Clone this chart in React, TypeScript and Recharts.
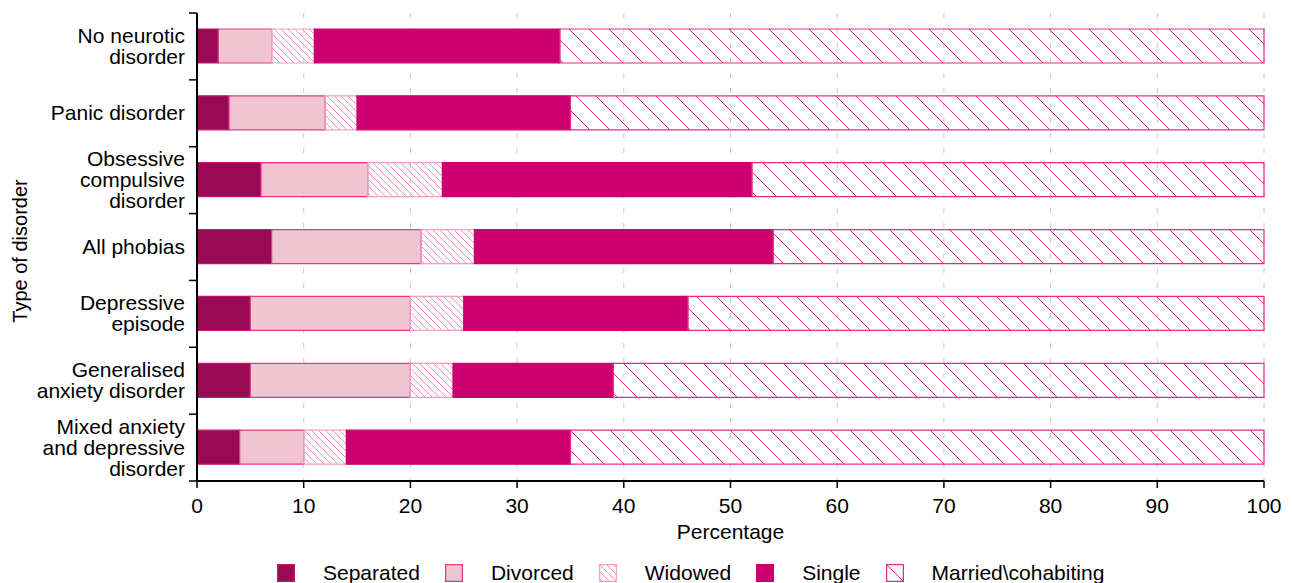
import React from 'react'
import {
  BarChart,
  Bar,
  XAxis,
  YAxis,
  CartesianGrid,
  Legend,
} from 'recharts'

const categories = [
  'No neurotic\ndisorder',
  'Panic disorder',
  'Obsessive\ncompulsive\ndisorder',
  'All phobias',
  'Depressive\nepisode',
  'Generalised\nanxiety disorder',
  'Mixed anxiety\nand depressive\ndisorder',
]
const separated = [2, 3, 6, 7, 5, 5, 4]
const divorced = [5, 9, 10, 14, 15, 15, 6]
const widowed = [4, 3, 7, 5, 5, 4, 4]
const single = [23, 20, 29, 28, 21, 15, 21]
const married = [66, 65, 48, 46, 54, 61, 65]
const xTicks = [0, 10, 20, 30, 40, 50, 60, 70, 80, 90, 100]

const data = categories.map((name, i) => ({
  name,
  separated: separated[i],
  divorced: divorced[i],
  widowed: widowed[i],
  single: single[i],
  married: married[i],
}))

const FONT = '"Liberation Sans", Arial, Helvetica, sans-serif'
const FS = 21
const PLOT_H = 468
const BAND = PLOT_H / categories.length

const series = [
  { key: 'separated', label: 'Separated', fill: '#990a55', stroke: '#c2156c' },
  { key: 'divorced', label: 'Divorced', fill: '#f0c5d1', stroke: '#e6368e' },
  { key: 'widowed', label: 'Widowed', fill: 'url(#hatchWidowed)', stroke: '#f79cc3' },
  { key: 'single', label: 'Single', fill: '#cc006e', stroke: '#cc006e' },
  { key: 'married', label: 'Married\\cohabiting', fill: 'url(#hatchMarried)', stroke: '#e8288a' },
]

function YTick(props: any) {
  const { x, y, payload, index, visibleTicksCount } = props
  const lines = String(payload.value).split('\n')
  const lh = 21
  const start = -((lines.length - 1) / 2) * lh
  return (
    <g>
      <line x1={x - 8} x2={x} y1={y - BAND / 2} y2={y - BAND / 2} stroke="#000" strokeWidth={1.5} />
      {index === visibleTicksCount - 1 && (
        <line x1={x - 8} x2={x} y1={y + BAND / 2} y2={y + BAND / 2} stroke="#000" strokeWidth={1.5} />
      )}
      <text x={x - 12} y={y} textAnchor="end" fill="#000" fontSize={FS} fontFamily={FONT}>
        {lines.map((l, i) => (
          <tspan key={i} x={x - 12} dy={i === 0 ? start + 7 : lh}>
            {l}
          </tspan>
        ))}
      </text>
    </g>
  )
}

function YLabel(props: any) {
  const vb = props.viewBox || {}
  const cx = 12
  const cy = vb.y + vb.height / 2 + 4
  return (
    <text
      x={cx}
      y={cy}
      transform={`rotate(-90, ${cx}, ${cy})`}
      textAnchor="middle"
      dominantBaseline="central"
      fontSize={20}
      fontFamily={FONT}
      fill="#000"
    >
      Type of disorder
    </text>
  )
}

function LegendContent() {
  return (
    <div
      style={{
        display: 'flex',
        alignItems: 'center',
        height: 30,
        paddingLeft: 269,
        paddingTop: 10,
        boxSizing: 'border-box',
        fontFamily: FONT,
        fontSize: FS,
        color: '#000',
      }}
    >
      {series.map((s) => (
        <div key={s.key} style={{ display: 'flex', alignItems: 'center', marginRight: 25 }}>
          <svg width={18} height={18} style={{ display: 'block' }}>
            <rect x={0.5} y={0.5} width={17} height={17} fill={s.fill} stroke={s.stroke} strokeWidth={1.5} />
          </svg>
          <span style={{ marginLeft: 28 }}>{s.label}</span>
        </div>
      ))}
    </div>
  )
}

export default function App() {
  return (
    <div style={{ fontFamily: FONT }}>
      <BarChart
        width={1276}
        height={575}
        data={data}
        layout="vertical"
        margin={{ top: 5, right: 20, bottom: 0, left: 0 }}
      >
        <defs>
          <pattern id="hatchWidowed" patternUnits="userSpaceOnUse" width={7} height={7}>
            <path d="M-1,-1 L8,8 M-1,6 L1,8 M6,-1 L8,1" stroke="#f790bb" strokeWidth={1} />
          </pattern>
          <pattern id="hatchMarried" patternUnits="userSpaceOnUse" width={20} height={20}>
            <path d="M-1,-1 L21,21 M-1,19 L1,21 M19,-1 L21,1" stroke="#e8288a" strokeWidth={1} />
          </pattern>
        </defs>
        <CartesianGrid horizontal={false} stroke="#c8c8c8" strokeDasharray="5 10" />
        <XAxis
          type="number"
          domain={[0, 100]}
          ticks={xTicks}
          interval={0}
          height={72}
          axisLine={{ stroke: '#000', strokeWidth: 2 }}
          tickLine={{ stroke: '#000', strokeWidth: 1.5 }}
          tickSize={7}
          tickMargin={10}
          tick={{ fill: '#000', fontSize: FS, fontFamily: FONT }}
          label={{ value: 'Percentage', position: 'insideBottom', offset: 14, fill: '#000', fontSize: FS, fontFamily: FONT }}
        />
        <XAxis
          xAxisId="top"
          orientation="top"
          type="number"
          domain={[0, 100]}
          height={0}
          tick={false}
          tickLine={false}
          axisLine={{ stroke: '#000', strokeWidth: 2 }}
        />
        <YAxis
          type="category"
          dataKey="name"
          width={189}
          interval={0}
          axisLine={{ stroke: '#000', strokeWidth: 2 }}
          tickLine={false}
          tickSize={0}
          tickMargin={0}
          tick={(p: any) => <YTick {...p} />}
          label={(p: any) => <YLabel {...p} />}
        />
        <YAxis
          yAxisId="right"
          orientation="right"
          type="category"
          dataKey="name"
          width={0}
          tick={false}
          tickLine={false}
          axisLine={{ stroke: '#000', strokeWidth: 3 }}
        />
        {series.map((s) => (
          <Bar
            key={s.key}
            dataKey={s.key}
            name={s.label}
            stackId="a"
            barSize={34}
            fill={s.fill}
            stroke={s.stroke}
            strokeWidth={1.2}
            isAnimationActive={false}
          />
        ))}
        <Legend verticalAlign="bottom" content={() => <LegendContent />} wrapperStyle={{ left: 0, width: 1276, bottom: 0, height: 30 }} />
      </BarChart>
    </div>
  )
}
